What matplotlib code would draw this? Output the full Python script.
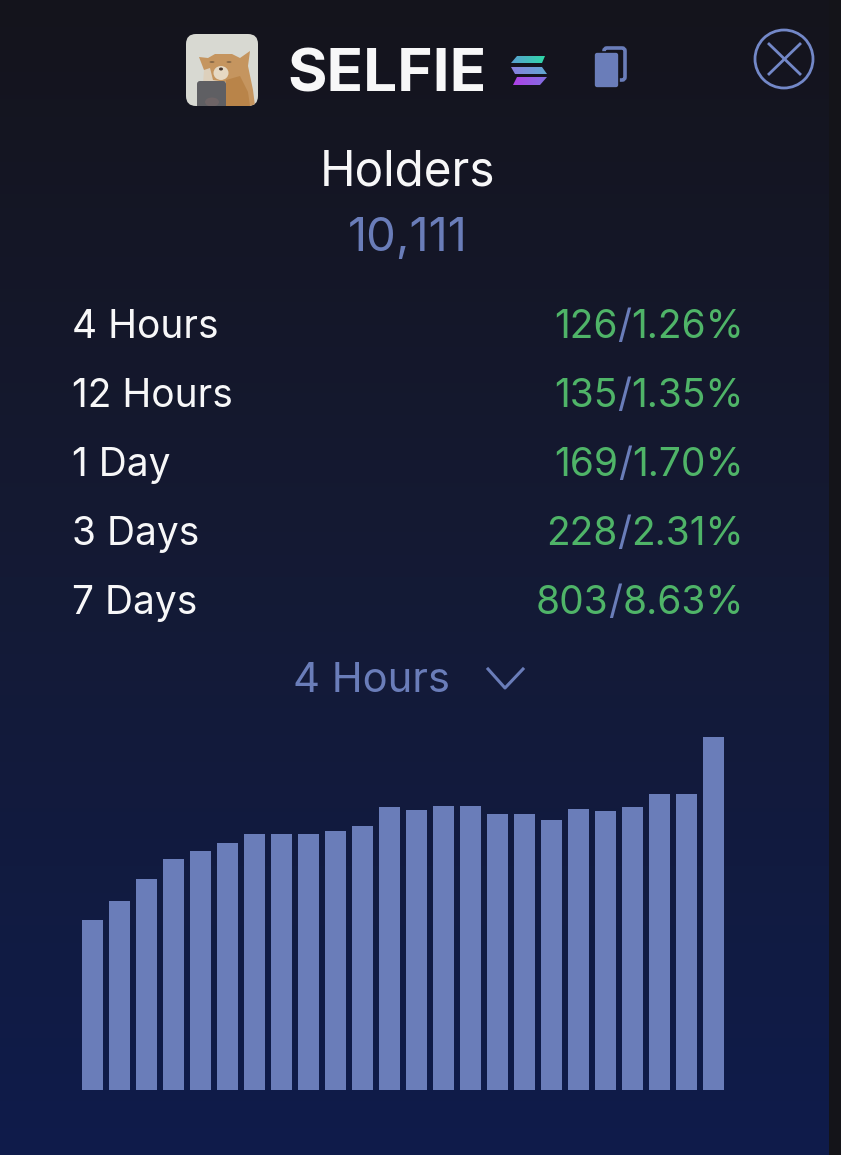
import matplotlib

matplotlib.use("Agg")
import matplotlib.pyplot as plt
import numpy as np
from matplotlib.colors import LinearSegmentedColormap
from matplotlib.patches import Circle, Ellipse, FancyBboxPatch, Polygon

W, H = 841, 1155
BLUE = "#6a7db9"
GREEN = "#4fb468"
WHITE = "#f7f7f8"

symbol = "SELFIE"
panel_title = "Holders"
holders = "10,111"
row_labels = ["4 Hours", "12 Hours", "1 Day", "3 Days", "7 Days"]
row_counts = ["126", "135", "169", "228", "803"]
row_pcts = ["1.26%", "1.35%", "1.70%", "2.31%", "8.63%"]
selected = "4 Hours"
# no axis in the original so unit is arbitrary
bar_values = [170, 189, 211, 231, 239, 247, 256, 256, 256, 259, 264, 283,
              280, 284, 284, 276, 276, 270, 281, 279, 283, 296, 296, 353]

plt.rcParams["font.family"] = ["Inter", "DejaVu Sans"]

fig = plt.figure(figsize=(W / 100, H / 100), dpi=100)
fig.patch.set_facecolor("#141419")

# whole figure axes in pixel coords for the card
bg = fig.add_axes([0, 0, 1, 1])
bg.axis("off")

cmap = LinearSegmentedColormap.from_list("card", ["#14141c", "#141a35", "#0f1c4b"])
grad = np.linspace(0, 1, 256).reshape(-1, 1)
bg.imshow(grad, cmap=cmap, extent=[0, 829, H, 0], aspect="auto", zorder=0)


def rounded(x, y, w, h, r, **kw):
    p = FancyBboxPatch((x + r, y + r), w - 2 * r, h - 2 * r,
                       boxstyle=f"round,pad={r},rounding_size={r}", **kw)
    bg.add_patch(p)
    return p


# avatar
clip = rounded(186, 34, 72, 72, 10, fc="#d8d9d2", ec="none", zorder=2)
dog = [
    (Polygon([(199, 57), (208, 58), (215, 54), (232, 54), (240, 58), (250, 51), (248, 66),
              (253, 90), (255, 106), (226, 106), (226, 84), (207, 80), (204, 70)],
             fc="#c5955f", ec="none", zorder=3)),
    (Polygon([(226, 80), (240, 76), (248, 92), (250, 106), (226, 106)],
             fc="#b98449", ec="none", zorder=3)),
    (Polygon([(204, 70), (210, 68), (213, 80), (226, 82), (226, 84), (203, 84)],
             fc="#ddd0bc", ec="none", zorder=3)),
    (Ellipse((221, 73), 15, 14, fc="#e6d9c4", ec="none", zorder=4)),
    (Ellipse((221, 69), 4, 3, fc="#4a3a30", ec="none", zorder=5)),
    (Ellipse((212, 62), 5, 2, fc="#8a6a48", ec="none", zorder=5)),
    (Ellipse((229, 62), 5, 2, fc="#8a6a48", ec="none", zorder=5)),
    (FancyBboxPatch((199, 83), 25, 26, boxstyle="round,pad=2,rounding_size=3",
                    fc="#5f5f63", ec="none", zorder=6)),
    (Ellipse((212, 102), 14, 9, fc="#6e6466", ec="none", zorder=7)),
]
for part in dog:
    bg.add_patch(part)
    part.set_clip_path(clip)

bg.text(287, 92, symbol, color=WHITE, fontsize=43.4, fontweight="bold", va="baseline")

# solana mark, three bands with a left to right fade
bands = [
    ([(517, 56), (545, 56), (542, 63), (511, 63)], "#5a9fd2", "#2fd8a8"),
    ([(511, 67), (542, 67), (547, 74), (515, 74)], "#8a7fe0", "#5fa8d0"),
    ([(517, 77), (547, 77), (540, 85), (513, 85)], "#b040e8", "#8070e0"),
]
for pts, c0, c1 in bands:
    xs = [p[0] for p in pts]
    ys = [p[1] for p in pts]
    cm = LinearSegmentedColormap.from_list("band", [c0, c1])
    im = bg.imshow(np.linspace(0, 1, 64).reshape(1, -1), cmap=cm, aspect="auto",
                   extent=[min(xs), max(xs), max(ys), min(ys)], zorder=3)
    shape = Polygon(pts, fc="none", ec="none", transform=bg.transData)
    bg.add_patch(shape)
    im.set_clip_path(shape)

# copy icon
rounded(604, 48, 21, 32, 3, fc="none", ec=BLUE, lw=2.6, zorder=3)
rounded(594, 52, 25, 36, 3, fc=BLUE, ec="#14141c", lw=1.2, zorder=4)

# close button
bg.add_patch(Circle((784, 59), 29, fc="none", ec="#7388c8", lw=2, zorder=3))
bg.plot([769, 800], [44, 74], color="#7388c8", lw=2, zorder=3)
bg.plot([769, 800], [74, 44], color="#7388c8", lw=2, zorder=3)

bg.set_xlim(0, W)
bg.set_ylim(H, 0)

bg.text(408, 185, panel_title, color=WHITE, fontsize=34.4, ha="center", va="baseline")
bg.text(408, 251, holders, color=BLUE, fontsize=34, ha="center", va="baseline")

renderer = fig.canvas.get_renderer()
for i, label in enumerate(row_labels):
    y = 338 + i * 69
    bg.text(72, y, label, color=WHITE, fontsize=28, va="baseline")
    # count and percent are green, the slash is blue, so lay out from the right
    right = 744
    for piece, col in [(row_pcts[i], GREEN), ("/", BLUE), (row_counts[i], GREEN)]:
        t = bg.text(right, y, piece, color=col, fontsize=28, ha="right", va="baseline")
        right -= t.get_window_extent(renderer).width

bg.text(293, 692, selected, color=BLUE, fontsize=30, va="baseline")
bg.plot([488, 505, 523], [669, 688, 669], color=BLUE, lw=2.2, zorder=3)

# bars sit in their own axes so they go through a real scale
ax = fig.add_axes([79 / W, 1 - 1090 / H, 648 / W, 353 / H])
ax.patch.set_alpha(0)
x = np.arange(len(bar_values))
ax.bar(x, bar_values, width=0.79, color=BLUE)
ax.set_xlim(-0.5, len(bar_values) - 0.5)
ax.set_ylim(0, max(bar_values))
ax.axis("off")

fig.savefig("out.png", dpi=100, facecolor=fig.get_facecolor())
